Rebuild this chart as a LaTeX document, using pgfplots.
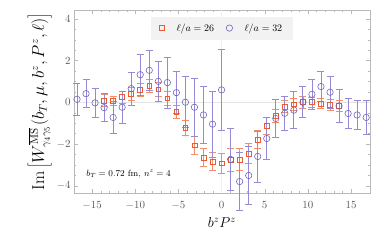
\documentclass[border=0pt]{standalone}
\usepackage{pgfplots}
\pgfplotsset{compat=1.18}
\usetikzlibrary{calc}
\definecolor{orng}{RGB}{235,90,50}
\definecolor{orngbar}{RGB}{246,140,105}
\definecolor{purp}{RGB}{112,100,190}
\definecolor{purpbar}{RGB}{150,138,215}
\definecolor{frame}{RGB}{185,185,185}
\definecolor{ticklab}{RGB}{90,90,90}
\begin{document}
\begin{tikzpicture}
\begin{axis}[
  scale only axis,
  width=296bp, height=183bp,
  xmin=-17.1, xmax=17.2, ymin=-4.35, ymax=4.42,
  xtick={-15,-10,...,15}, ytick={-4,-2,0,2,4},
  minor x tick num=4, minor y tick num=3,
  axis line style={frame},
  tick style={frame},
  major tick length=4bp, minor tick length=2bp,
  tick label style={font=\fontsize{11}{13}\selectfont, text=ticklab},
  xticklabel style={yshift=-5bp},
  xlabel={$b^z P^z$},
  xlabel style={font=\Large, yshift=-1bp},
  ylabel={$\mathrm{Im}\left[W^{\overline{\mathrm{MS}}}_{\gamma_4\gamma_5}(b_T,\mu,b^z,P^z,\ell)\right]$},
  ylabel style={font=\fontsize{16}{18}\selectfont, yshift=-2bp},
  legend columns=2,
  legend style={at={(0.5,0.965)}, anchor=north, fill=black!5, draw=none,
    font=\normalsize, column sep=10bp, inner xsep=9bp, inner ysep=5bp},
  legend cell align=left,
  clip=false,
]
\draw[black!10, line width=0.6pt] (axis cs:-17.1,0) -- (axis cs:17.2,0);
\draw[black!6, line width=0.6pt] (axis cs:0,-4.35) -- (axis cs:0,4.42);
\addplot[only marks, mark=square, mark size=2.4bp, color=orng, line width=0.7pt,
  error bars/.cd, y dir=both, y explicit,
  error bar style={color=orngbar, line width=0.75pt},
  error mark options={rotate=90, mark size=3.5bp, color=orngbar, line width=0.75pt}]
  table[x=x, y=y, y error=e] {
x y e
-13.614 0.08 0.30
-12.566 0.05 0.22
-11.519 0.24 0.30
-10.472 0.41 0.30
-9.425 0.59 0.32
-8.378 0.78 0.32
-7.330 0.62 0.32
-6.283 0.19 0.32
-5.236 -0.48 0.31
-4.189 -1.24 0.37
-3.142 -2.07 0.42
-2.094 -2.65 0.43
-1.047 -2.84 0.45
0.000 -2.93 0.47
1.047 -2.76 0.56
2.094 -2.76 0.53
3.142 -2.46 0.47
4.189 -1.80 0.43
5.236 -1.13 0.42
6.283 -0.64 0.32
7.330 -0.21 0.30
8.378 -0.10 0.28
9.425 0.00 0.28
10.472 0.00 0.25
11.519 -0.06 0.25
12.566 -0.13 0.25
13.614 -0.18 0.25
};
\addlegendentry{$\ell/a=26$}
\addplot[only marks, mark=o, mark size=3.2bp, color=purp, line width=0.6pt,
  error bars/.cd, y dir=both, y explicit,
  error bar style={color=purpbar, line width=0.85pt},
  error mark options={rotate=90, mark size=3.5bp, color=purpbar, line width=0.85pt}]
  table[x=x, y=y, y error=e] {
x y e
-16.755 0.14 0.76
-15.708 0.41 0.66
-14.661 -0.03 0.70
-13.614 -0.26 0.68
-12.566 -0.73 0.78
-11.519 -0.24 0.78
-10.472 0.65 0.80
-9.425 1.32 0.99
-8.378 1.53 0.96
-7.330 1.00 0.96
-6.283 0.94 1.23
-5.236 0.46 1.00
-4.189 0.00 1.22
-3.142 -0.24 1.38
-2.094 -0.61 1.35
-1.047 -1.05 1.58
0.000 0.59 1.95
1.047 -2.74 1.50
2.094 -3.80 1.40
3.142 -3.51 1.40
4.189 -2.60 1.22
5.236 -1.74 1.00
6.283 -0.78 0.93
7.330 -0.53 0.80
8.378 -0.38 0.88
9.425 0.00 0.75
10.472 0.38 0.73
11.519 0.75 0.73
12.566 0.48 0.77
13.614 -0.18 0.77
14.661 -0.54 0.70
15.708 -0.61 0.70
16.755 -0.73 0.83
};
\addlegendentry{$\ell/a=32$}
\node[anchor=south west, font=\small] at (rel axis cs:0.03,0.06) {$b_T=0.72$ fm,\ $n^z=4$};
\coordinate (sw) at (rel axis cs:0,0);
\coordinate (ne) at (rel axis cs:1,1);
\end{axis}
\path[use as bounding box] ($(sw)+(-74bp,-50bp)$) rectangle ($(ne)+(12bp,10bp)$);
\end{tikzpicture}
\end{document}
